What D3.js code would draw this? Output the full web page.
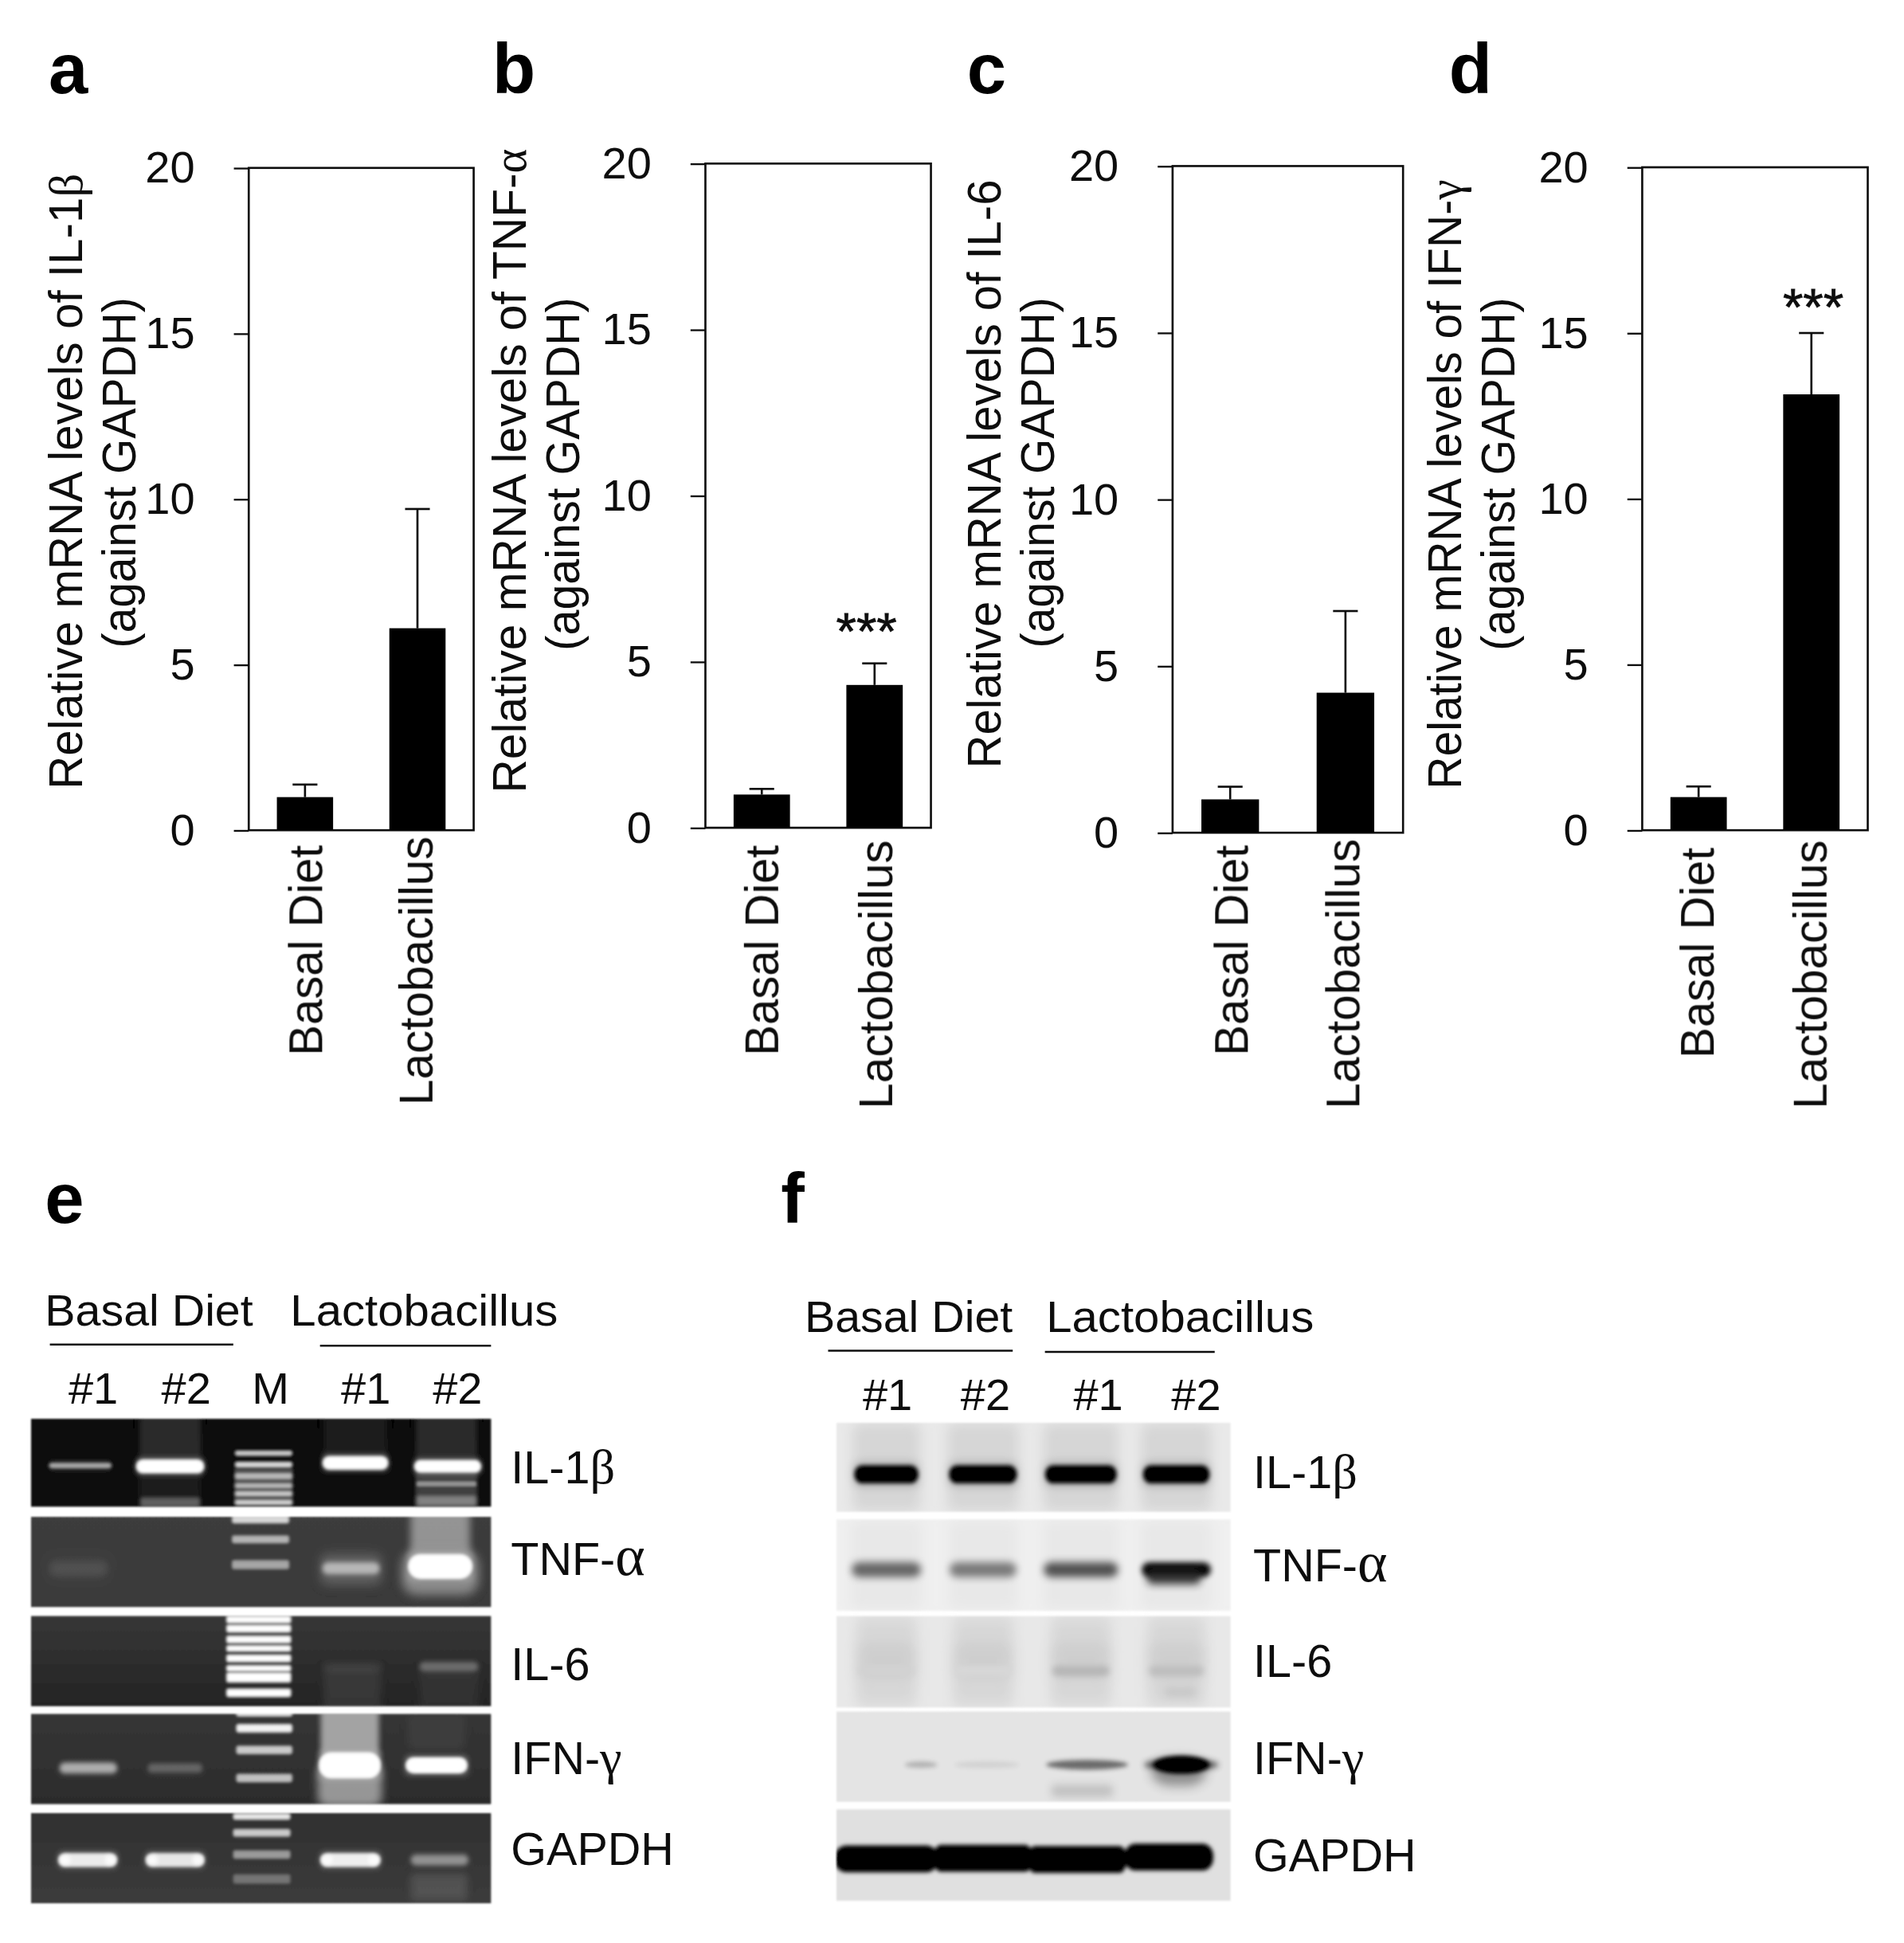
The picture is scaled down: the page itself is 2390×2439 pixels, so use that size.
<!DOCTYPE html>
<html><head><meta charset="utf-8">
<style>html,body{margin:0;padding:0;background:#fff}svg{display:block}text{font-family:"Liberation Sans",Arial,sans-serif;fill:#111}</style>
<script src="https://cdn.jsdelivr.net/npm/d3@7"></script></head><body><div id="c"></div>
<script>
// ---------- data ----------
const groups = ["Basal Diet","Lactobacillus"];
const yTicks = [0,5,10,15,20];
const il1bMeans = [1.0, 6.1],   il1bTops = [1.38, 9.7];
const tnfMeans  = [1.0, 4.3],   tnfTops  = [1.17, 4.95];
const il6Means  = [1.0, 4.2],   il6Tops  = [1.38, 6.65];
const ifnMeans  = [1.0, 13.15], ifnTops  = [1.32, 15.0];
const genes = ["IL-1","TNF-","IL-6","IFN-","GAPDH"];
const greek = ["β","α","","γ",""];
// band brightness of the RT-PCR gel (four sample lanes)
const gelIL1b=[0.6,1,1,1], gelTNF=[0.07,0,0.5,1], gelIL6=[0,0,0.05,0.25], gelIFN=[0.55,0.22,1,1], gelGAPDH=[0.88,0.85,0.9,0.4];
// band darkness of the western blot (four sample lanes)
const wbIL1b=[1,1,1,1], wbTNF=[0.58,0.48,0.68,1], wbIL6=[0.06,0.03,0.2,0.16], wbIFN=[0.22,0.07,0.55,1], wbGAPDH=[1,1,1,1];
const lanesE=["#1","#2","M","#1","#2"], lanesF=["#1","#2","#1","#2"];
const stars="***";

// ---------- layout (in units of a 1536x1568 canvas) ----------
const svg=d3.select("#c").append("svg").attr("width",2390).attr("height",2439).attr("viewBox","0 0 1536 1568");
svg.append("rect").attr("width",1536).attr("height",1568).attr("fill","#fff");
const defs=svg.append("defs"), made={};
function blur(s){const id="b"+String(s).replace(".","_");if(!made[id]){made[id]=1;defs.append("filter").attr("id",id).attr("x","-60%").attr("y","-150%").attr("width","220%").attr("height","400%").append("feGaussianBlur").attr("stdDeviation",s);}return `url(#${id})`;}
const soft=svg.append("g").attr("filter",blur(0.45));
const blots=svg.append("g").attr("filter",blur(0.6));

const panels=[
 {l:"a",lx:39,x0:200.5,x1:382,t:135.5,b:670,m:il1bMeans,e:il1bTops,g:0,tb:66,tr:[140,637],sb:109,sr:[240,523],cat:[[260,682,852],[349,675,892]]},
 {l:"b",lx:397,x0:569,x1:751,t:132,b:668,m:tnfMeans,e:tnfTops,g:1,tb:424,tr:[120,640],sb:467,sr:[240,525],cat:[[628,682,852],[720,678,895]],star:[699,524]},
 {l:"c",lx:780,x0:946,x1:1132,t:134,b:672,m:il6Means,e:il6Tops,g:2,tb:807,tr:[145,620],sb:850,sr:[240,523],cat:[[1007,682,852],[1097,677,895]]},
 {l:"d",lx:1169,x0:1325,x1:1507,t:135,b:670,m:ifnMeans,e:ifnTops,g:3,tb:1179,tr:[145,637],sb:1222,sr:[240,525],cat:[[1383,684,854],[1474,678,895]],star:[1463,262]}
];
const label=(s,x,y)=>soft.append("text").attr("x",x).attr("y",y).attr("font-size",57).attr("font-weight","700").text(s).style("fill","#000");
panels.forEach(p=>{
  label(p.l,p.lx,75);
  const y=d3.scaleLinear().domain([0,20]).range([p.b,p.t]);
  const x=d3.scaleBand().domain(groups).range([p.x0,p.x1]).paddingInner(.5).paddingOuter(.25);
  const g=soft.append("g");
  g.append("rect").attr("x",p.x0).attr("y",p.t).attr("width",p.x1-p.x0).attr("height",p.b-p.t).attr("fill","none").attr("stroke","#111").attr("stroke-width",1.7);
  const ax=g.append("g").attr("transform",`translate(${p.x0},0)`).call(d3.axisLeft(y).tickValues(yTicks).tickSize(12).tickPadding(31.5));
  ax.select(".domain").remove();
  ax.selectAll("line").attr("stroke","#111").attr("stroke-width",1.5);
  ax.selectAll("text").attr("font-size",36).attr("font-family",'"Liberation Sans"').style("fill","#111");
  groups.forEach((c,i)=>{
    const cx=x(c)+x.bandwidth()/2;
    g.append("line").attr("x1",cx).attr("x2",cx).attr("y1",y(p.m[i])).attr("y2",y(p.e[i])).attr("stroke","#111").attr("stroke-width",1.7);
    g.append("line").attr("x1",cx-10).attr("x2",cx+10).attr("y1",y(p.e[i])).attr("y2",y(p.e[i])).attr("stroke","#111").attr("stroke-width",1.7);
    g.append("rect").attr("x",x(c)).attr("y",y(p.m[i])).attr("width",x.bandwidth()).attr("height",y(0)-y(p.m[i])).attr("fill","#000");
    const [bx,t0,t1]=p.cat[i];
    g.append("text").attr("transform",`translate(${bx},${t0}) rotate(-90)`).attr("text-anchor","end").attr("font-size",37.5)
      .attr("textLength",t1-t0).attr("lengthAdjust","spacingAndGlyphs").text(c);
  });
  if(p.star){
    g.append("text").attr("x",p.star[0]).attr("y",p.star[1]).attr("text-anchor","middle").attr("font-size",42).attr("stroke","#111").attr("stroke-width",.5).text(stars);}
  const tt=g.append("text").attr("transform",`translate(${p.tb},${p.tr[1]}) rotate(-90)`).attr("font-size",37.5).attr("textLength",p.tr[1]-p.tr[0]).attr("lengthAdjust","spacingAndGlyphs");
  tt.append("tspan").text("Relative mRNA levels of "+genes[p.g]);
  tt.append("tspan").style("font-family",'"Liberation Serif"').text(greek[p.g]);
  g.append("text").attr("transform",`translate(${p.sb},${p.sr[1]}) rotate(-90)`).attr("font-size",37.5).attr("textLength",p.sr[1]-p.sr[0]).attr("lengthAdjust","spacingAndGlyphs").text("(against GAPDH)");
});

// shared blot text
function geneLabel(x,yy,i){const t=soft.append("text").attr("x",x).attr("y",yy).attr("font-size",37).text(genes[i]);
  t.append("tspan").style("font-family",'"Liberation Serif"').attr("font-size",i==1?46:40).text(greek[i]);}
function header(a,b){
  [[groups[0],...a],[groups[1],...b]].forEach(([s,x0,x1,bl,lx0,lx1,ly])=>{
    soft.append("text").attr("x",x0).attr("y",bl).attr("font-size",36).attr("textLength",x1-x0).attr("lengthAdjust","spacingAndGlyphs").text(s);
    soft.append("line").attr("x1",lx0).attr("x2",lx1).attr("y1",ly).attr("y2",ly).attr("stroke","#111").attr("stroke-width",1.7);
  });
}
function band(g,cx,cy,w,h,col,op,s,rx,ry){const r=g.append("rect").attr("x",cx-w/2).attr("y",cy-h/2).attr("width",w).attr("height",h).attr("rx",rx==null?h/2:rx).attr("ry",ry==null?(rx==null?h/2:rx):ry).attr("fill",col).attr("opacity",op);if(s)r.attr("filter",blur(s));return r;}

// ---------- panel e : gel ----------
label("e",36,987);
header([36,204,1070,40,188,1085],[234,450,1070,258,396,1086]);
const xE=[75,150,218,295,369];
lanesE.forEach((s,i)=>soft.append("text").attr("x",xE[i]).attr("y",1133).attr("text-anchor","middle").attr("font-size",36).text(s));
const gelRows=[
 {t:1145,b:1216,top:"#070707",bot:"#0e0e0e",v:gelIL1b,cy:[.53,.54,.5,.54],th:[4,11,11,10],w:[50,55,53,54],lx:[64.5,137,286.5,361],mx:212.5,mw:46,lad:[.39,.52,.65,.76,.85,.95],lv:[.8,.85,.6,.6,.7,.75],lh:[4,4.5,5,4,4,4],ly:1197},
 {t:1224,b:1297,top:"#3c3c3c",bot:"#3a3a3a",v:gelTNF,cy:[.57,.57,.57,.55],th:[10,8,9,20],w:[46,46,46,52],lx:[63,137,283,355],mx:210,mw:46,lad:[.03,.25,.53],lv:[.8,.62,.55],lh:[6,6,7],ly:1271},
 {t:1304,b:1377,top:"#373737",bot:"#242424",v:gelIL6,cy:[.56,.56,.56,.56],th:[7,7,6,7],w:[46,46,46,47],lx:[63,137,284,362],mx:208.5,mw:52,lad:[.04,.14,.26,.36,.47,.58,.68,.85],lv:[1,1,1,1,1,1,1,1],lh:[6,6,6,5,6,5,8,6.5],ly:1356},
 {t:1383,b:1456,top:"#363636",bot:"#2c2c2c",v:gelIFN,cy:[.6,.6,.57,.57],th:[8,7,21,13],w:[46,44,50,50],lx:[71,141,282,352],mx:213,mw:45,lad:[0,.16,.4,.71],lv:[.95,.95,.75,.7],lh:[4,6.5,6.5,6.5],ly:1432},
 {t:1463,b:1536,top:"#303030",bot:"#3c3c3c",v:gelGAPDH,cy:[.52,.52,.52,.52],th:[11,11,11,8],w:[47,47,48,46],lx:[70.5,141,282.5,354.5],mx:211,mw:46,lad:[.04,.22,.46,.73],lv:[.9,.75,.5,.3],lh:[5,6,6.5,7.5],ly:1505}
];
gelRows.forEach((r,i)=>{
  const cid="ge"+i, h=r.b-r.t, grad="gg"+i;
  const lg=defs.append("linearGradient").attr("id",grad).attr("x1",0).attr("x2",0).attr("y1",0).attr("y2",1);
  lg.append("stop").attr("offset",0).attr("stop-color",r.top); lg.append("stop").attr("offset",1).attr("stop-color",r.bot);
  defs.append("clipPath").attr("id",cid).append("rect").attr("x",25).attr("y",r.t).attr("width",371).attr("height",h);
  const g=blots.append("g").attr("clip-path",`url(#${cid})`);
  g.append("rect").attr("x",25).attr("y",r.t).attr("width",371).attr("height",h).attr("fill",`url(#${grad})`);
  const Y=f=>r.t+f*h;
  // lane smears drawn under the bands
  if(i==0){
    band(g,137,Y(.24),50,38,"#3a3a3a",.7,2,1); band(g,286.5,Y(.22),52,34,"#2c2c2c",.6,2,1); band(g,360,Y(.24),50,38,"#3a3a3a",.7,2,1);
    band(g,137,Y(.8),50,28,"#222",.8,2,1); band(g,137,Y(.95),48,8,"#777",.75,1.5,1);
    band(g,360,Y(.82),50,30,"#444",.9,1.5,1); band(g,360,Y(.74),48,4,"#aaa",.8,.8,1); band(g,360,Y(.93),48,8,"#999",.75,1.2,1);
    band(g,r.mx,Y(.77),47,30,"#555",.9,1,1);
  }
  if(i==1){ band(g,355,Y(.2),48,46,"#aaa",.8,3,3); band(g,355,Y(.62),62,36,"#999",.85,4,12); band(g,283,Y(.58),50,26,"#777",.6,4,6); band(g,63,Y(.58),52,22,"#666",.18,5,6); }
  if(i==2){ band(g,284,Y(.8),46,36,"#4a4a4a",.5,3,1); band(g,362,Y(.8),48,36,"#404040",.45,3,1); }
  if(i==3){ band(g,282,Y(.22),47,50,"#b0b0b0",.9,2,2); band(g,282,Y(.78),52,36,"#aaa",.85,3.5,8); band(g,352,Y(.2),46,28,"#4a4a4a",.5,3,2);}
  if(i==4){ band(g,354,Y(.82),46,22,"#666",.55,3,3); }
  // ladder
  r.lad.forEach((f,j)=>band(g,r.mx,Y(f),r.mw,r.lh[j],"#fff",r.lv[j],1,1.5));
  // sample bands
  r.v.forEach((v,j)=>{
    if(v<=0) return;
    const cx=r.lx[j], cy=Y(r.cy[j]), th=r.th[j], w=r.w[j];
    band(g,cx,cy,w+2,th+4,"#bbb",v*.35,2,4);
    band(g,cx,cy,w,th,"#fff",v,v<.15?3:(v<.6?1.8:1.1),Math.min(th/2,10));
    if(i==4&&v>.8){ [-1,1].forEach(d=>band(g,cx+d*(w/2-5),cy,9,th-3,"#fff",.8,1.2,3)); }
  });
  geneLabel(412,r.ly,i);
});

// ---------- panel f : western ----------
label("f",630,987);
header([649,817,1075,668,817,1090],[844,1060,1075,843,980,1091]);
const xF=[716,795,886,965];
lanesF.forEach((s,i)=>soft.append("text").attr("x",xF[i]).attr("y",1138).attr("text-anchor","middle").attr("font-size",36).text(s));
const wbRows=[
 {t:1148,b:1220,bg:"#e9e9e9",lane:"#d6d6d6",v:wbIL1b,f:.58,h:15,w:[52,55,58,54],ly:1201},
 {t:1226,b:1300,bg:"#f0f0f0",lane:"#e8e8e8",v:wbTNF,f:.55,h:12,w:[56,54,60,56],ly:1276},
 {t:1304,b:1378,bg:"#e8e8e8",lane:"#d8d8d8",v:wbIL6,f:.6,h:8,w:[46,46,46,44],ly:1353},
 {t:1381,b:1454,bg:"#e4e4e4",lane:"#e4e4e4",v:wbIFN,f:.59,h:5,w:[26,52,66,58],ly:1432},
 {t:1460,b:1534,bg:"#e0e0e0",lane:"#dcdcdc",v:wbGAPDH,f:.535,h:22,w:[80,76,76,72],ly:1510}
];
const laneF=[715,793,872,949];
wbRows.forEach((r,i)=>{
  const cid="gf"+i,h=r.b-r.t; defs.append("clipPath").attr("id",cid).append("rect").attr("x",675).attr("y",r.t).attr("width",318).attr("height",h);
  const g=blots.append("g").attr("clip-path",`url(#${cid})`);
  g.append("rect").attr("x",675).attr("y",r.t).attr("width",318).attr("height",h).attr("fill",r.bg);
  const cy=r.t+r.f*h;
  if(i==4){ // one merged, saturated band
    const m=g.append("g").attr("filter",blur(1.3));
    let left=675;
    r.v.forEach((v,j)=>{ const w=r.w[j],cyj=cy+[0.5,0,1,-1][j];
      band(m,left+w/2,cyj,w+(j==3?0:4),r.h,"#000",v,0,j==0?10:(j==3?9:6),10); left+=w; });
    return geneLabel(1011,r.ly,i);
  }
  r.v.forEach((v,j)=>{
    let cx=laneF[j];
    band(g,cx,r.t+h/2,r.w[j]+2,h-2,r.lane,1,5,4);
    if(i==3&&j==0) cx=743;
    if(i==3&&j==1) cx=796;
    if(i==3&&j==2) cx=877;
    if(i==3&&j==3) cx=953;
    const dark=d3.interpolateRgb("#e0e0e0","#000")(v);
    if(i==0){ band(g,cx,cy,r.w[j]+2,r.h+6,"#888",.4,3,6); band(g,cx,cy,r.w[j],r.h,dark,1,1.5,7); return; }
    if(i==1){ band(g,cx,cy,r.w[j],r.h,dark,.95,v>=1?2:3,6);
      if(v>=1){ band(g,cx-2,cy+6,44,12,"#222",.85,3,5); } return; }
    if(i==2){ band(g,cx,cy-8,r.w[j],30,"#c6c6c6",v*2.4>1?.8:.5,5,6); band(g,cx,cy,r.w[j],r.h,dark,.9,2.5,4);
      if(j==3) band(g,cx+3,cy+17,26,8,"#c4c4c4",.8,3,4); return; }
    if(i==3){
      if(j==3){ band(g,cx-2,cy+6,44,22,"#555",.6,4,16,11); band(g,cx,cy,60,10,"#333",.8,2.5,30,5); band(g,cx,cy,46,15,"#000",1,1.3,23,7.5); return; }
      if(j==2){ band(g,cx-4,r.t+.88*h,50,10,"#b5b5b5",.7,3,4); }
      band(g,cx,cy,r.w[j],j==2?8:r.h,dark,.95,1.6,r.w[j]/2,4);
    }
  });
  geneLabel(1011,r.ly,i);
});
</script></body></html>
